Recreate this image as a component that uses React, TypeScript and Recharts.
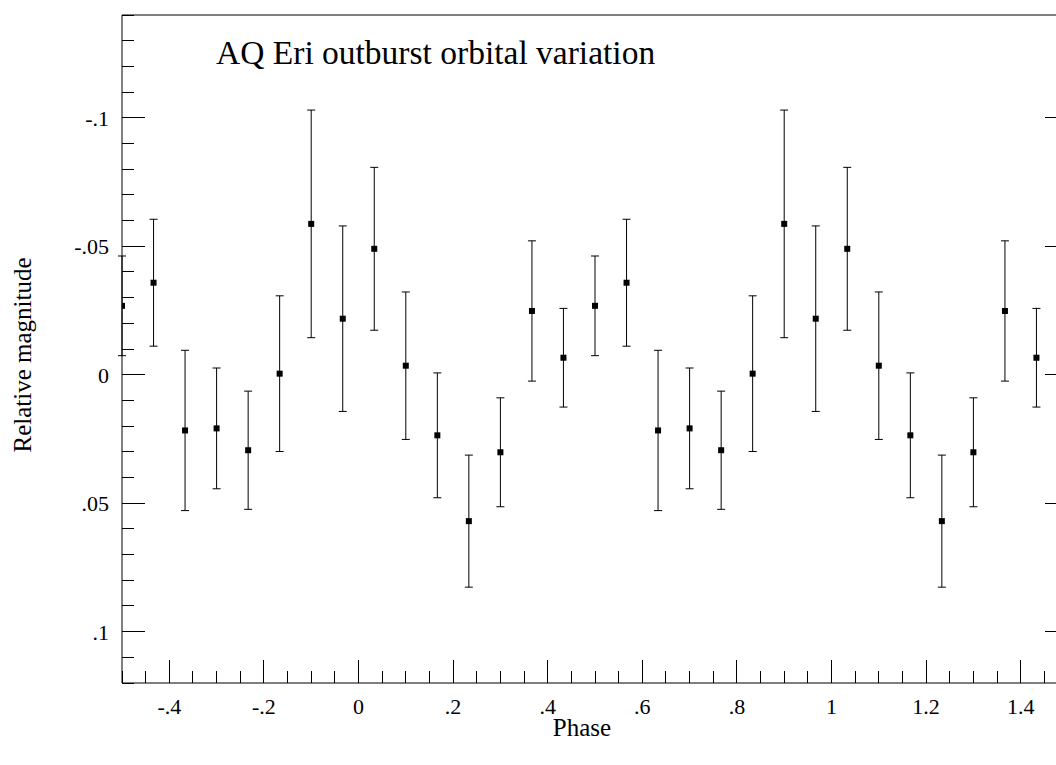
import { ScatterChart, Scatter, XAxis, YAxis, ErrorBar } from "recharts";

// phase bins (15 per cycle, plotted twice)
const phase = [
  -0.5, -0.4333, -0.3667, -0.3, -0.2333, -0.1667, -0.1, -0.0333, 0.0333, 0.1,
  0.1667, 0.2333, 0.3, 0.3667, 0.4333, 0.5, 0.5667, 0.6333, 0.7, 0.7667,
  0.8333, 0.9, 0.9667, 1.0333, 1.1, 1.1667, 1.2333, 1.3, 1.3667, 1.4333, 1.5,
];

const relMag = [
  -0.0268, -0.0358, 0.0217, 0.0209, 0.0294, -0.0004, -0.0587, -0.0218, -0.049, -0.0035,
  0.0236, 0.057, 0.0302, -0.0248, -0.0066, -0.0268, -0.0358, 0.0217, 0.0209, 0.0294,
  -0.0004, -0.0587, -0.0218, -0.049, -0.0035, 0.0236, 0.057, 0.0302, -0.0248, -0.0066, -0.0268,
];

const magErr = [
  0.0194, 0.0247, 0.0312, 0.0235, 0.023, 0.0303, 0.0443, 0.0361, 0.0317, 0.0287,
  0.0243, 0.0257, 0.0212, 0.0273, 0.0192, 0.0194, 0.0247, 0.0312, 0.0235, 0.023,
  0.0303, 0.0443, 0.0361, 0.0317, 0.0287, 0.0243, 0.0257, 0.0212, 0.0273, 0.0192, 0.0194,
];

const xTicks = [
  -0.5, -0.45, -0.4, -0.35, -0.3, -0.25, -0.2, -0.15, -0.1, -0.05, 0, 0.05, 0.1, 0.15,
  0.2, 0.25, 0.3, 0.35, 0.4, 0.45, 0.5, 0.55, 0.6, 0.65, 0.7, 0.75, 0.8, 0.85, 0.9,
  0.95, 1, 1.05, 1.1, 1.15, 1.2, 1.25, 1.3, 1.35, 1.4, 1.45, 1.5,
];

const yTicks = [
  -0.14, -0.13, -0.12, -0.11, -0.1, -0.09, -0.08, -0.07, -0.06, -0.05, -0.04, -0.03, -0.02,
  -0.01, 0, 0.01, 0.02, 0.03, 0.04, 0.05, 0.06, 0.07, 0.08, 0.09, 0.1, 0.11, 0.12,
];

const FONT = '"Liberation Serif", "Times New Roman", Times, serif';

const points = phase.map((p, i) => ({ phase: p, mag: relMag[i], err: magErr[i] }));

// -0.4 -> "-.4", 0.05 -> ".05"
const fmt = (v: number) => String(Number(v.toFixed(2))).replace(/^(-?)0\./, "$1.");
const majorX = (v: number) => Math.round(v * 100) % 20 === 0;
const majorY = (v: number) => Math.round(v * 100) % 5 === 0;

const BIG = 23;
const SMALL = 12;

function BottomTick({ x, y, payload }: any) {
  const major = majorX(payload.value);
  return (
    <g>
      <line x1={x} y1={y} x2={x} y2={y - (major ? BIG : SMALL)} stroke="#000" shapeRendering="crispEdges" />
      {major && (
        <text x={x} y={y + 31} textAnchor="middle" fontSize={22} fontFamily={FONT} fill="#000">
          {fmt(payload.value)}
        </text>
      )}
    </g>
  );
}

function TopTick({ x, y, payload }: any) {
  const major = majorX(payload.value);
  return <line x1={x} y1={y} x2={x} y2={y + (major ? BIG : SMALL)} stroke="#000" shapeRendering="crispEdges" />;
}

function LeftTick({ x, y, payload }: any) {
  const major = majorY(payload.value);
  return (
    <g>
      <line x1={x} y1={y} x2={x + (major ? BIG : SMALL)} y2={y} stroke="#000" shapeRendering="crispEdges" />
      {major && (
        <text x={x - 13} y={y + 8} textAnchor="end" fontSize={22} fontFamily={FONT} fill="#000">
          {fmt(payload.value)}
        </text>
      )}
    </g>
  );
}

function RightTick({ x, y, payload }: any) {
  const major = majorY(payload.value);
  return <line x1={x} y1={y} x2={x - (major ? BIG : SMALL)} y2={y} stroke="#000" shapeRendering="crispEdges" />;
}

const Square = (props: any) => (
  <rect x={props.cx - 3} y={props.cy - 3} width={6} height={6} fill="#000" />
);

export default function App() {
  return (
    <div style={{ position: "absolute", left: 0, top: 0, width: 1056, height: 765, overflow: "hidden", background: "#fff" }}>
      <ScatterChart width={1100} height={765} margin={{ top: 0, right: 0, bottom: 0, left: 0 }}>
        <XAxis
          dataKey="phase"
          type="number"
          domain={[-0.5, 1.5]}
          ticks={xTicks}
          interval={0}
          allowDataOverflow
          height={82}
          tickSize={0}
          tickMargin={0}
          tickLine={false}
          tick={BottomTick}
          axisLine={{ stroke: "#000" }}
        />
        <XAxis
          xAxisId="top"
          orientation="top"
          type="number"
          domain={[-0.5, 1.5]}
          ticks={xTicks}
          interval={0}
          allowDataOverflow
          height={15}
          tickSize={0}
          tickMargin={0}
          tickLine={false}
          tick={TopTick}
          axisLine={{ stroke: "#000" }}
        />
        <YAxis
          dataKey="mag"
          type="number"
          domain={[-0.14, 0.12]}
          reversed
          ticks={yTicks}
          interval={0}
          allowDataOverflow
          width={122}
          tickSize={0}
          tickMargin={0}
          tickLine={false}
          tick={LeftTick}
          axisLine={{ stroke: "#000" }}
        />
        <YAxis
          yAxisId="right"
          orientation="right"
          type="number"
          domain={[-0.14, 0.12]}
          reversed
          ticks={yTicks}
          interval={0}
          allowDataOverflow
          width={32}
          tickSize={0}
          tickMargin={0}
          tickLine={false}
          tick={RightTick}
          axisLine={{ stroke: "#000" }}
        />
        <Scatter data={points} dataKey="mag" shape={Square} isAnimationActive={false}>
          <ErrorBar dataKey="err" direction="y" width={4} stroke="#000" strokeWidth={1} isAnimationActive={false} />
        </Scatter>
      </ScatterChart>
      <svg width={1056} height={765} style={{ position: "absolute", left: 0, top: 0, pointerEvents: "none" }}>
        <text x={216} y={64} fontSize={33.5} fontFamily={FONT} fill="#000">
          AQ Eri outburst orbital variation
        </text>
        <text x={582} y={736} textAnchor="middle" fontSize={25} fontFamily={FONT} fill="#000">
          Phase
        </text>
        <text transform="translate(31,355) rotate(-90)" textAnchor="middle" fontSize={25} fontFamily={FONT} fill="#000">
          Relative magnitude
        </text>
      </svg>
    </div>
  );
}
